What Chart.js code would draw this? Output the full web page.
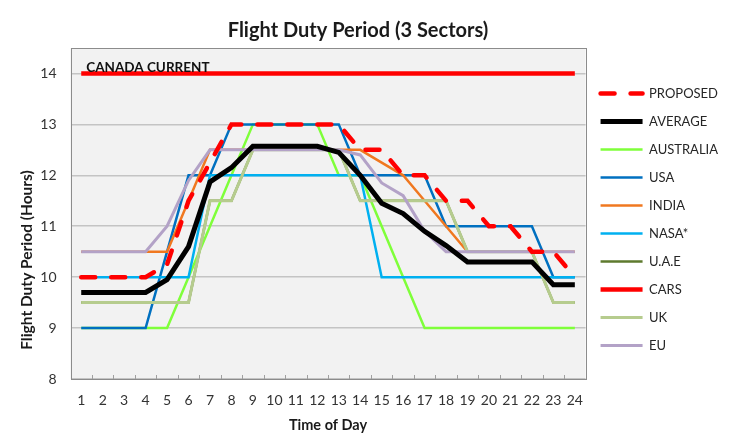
<!DOCTYPE html>
<html><head><meta charset="utf-8">
<script src="https://cdn.jsdelivr.net/npm/chart.js@4.4.0/dist/chart.umd.min.js"></script>
<style>html,body{margin:0;padding:0;background:#fff;}canvas{display:block;}</style>
</head><body>
<canvas id="c" width="734" height="439"></canvas>
<script>
const hours = ['1','2','3','4','5','6','7','8','9','10','11','12','13','14','15','16','17','18','19','20','21','22','23','24'];
const yTicks = [8, 9, 10, 11, 12, 13, 14];
const proposed  = [10,10,10,10,10.25,11.5,12.25,13,13,13,13,13,13,12.5,12.5,12,12,11.5,11.5,11,11,10.5,10.5,10];
const average   = [9.7,9.7,9.7,9.7,9.95,10.6,11.87,12.15,12.57,12.57,12.57,12.57,12.45,12.0,11.45,11.25,10.9,10.62,10.3,10.3,10.3,10.3,9.85,9.85];
const australia = [9,9,9,9,9,10,11,12,13,13,13,13,12,12,11,10,9,9,9,9,9,9,9,9];
const usa       = [9,9,9,9,10.5,12,12,13,13,13,13,13,13,12,12,12,12,11,11,11,11,11,10,10];
const india     = [10.5,10.5,10.5,10.5,10.5,11.5,12.5,12.5,12.5,12.5,12.5,12.5,12.5,12.5,12.25,12,11.5,11,10.5,10.5,10.5,10.5,10.5,10.5];
const nasa      = [10,10,10,10,10,10,12,12,12,12,12,12,12,12,10,10,10,10,10,10,10,10,10,10];
const uae       = [9.5,9.5,9.5,9.5,9.5,9.5,11.5,11.5,12.5,12.5,12.5,12.5,12.5,11.5,11.5,11.5,11.5,11.5,10.5,10.5,10.5,10.5,9.5,9.5];
const cars      = [14,14,14,14,14,14,14,14,14,14,14,14,14,14,14,14,14,14,14,14,14,14,14,14];
const uk        = [9.5,9.5,9.5,9.5,9.5,9.5,11.5,11.5,12.5,12.5,12.5,12.5,12.5,11.5,11.5,11.5,11.5,11.5,10.5,10.5,10.5,10.5,9.5,9.5];
const eu        = [10.5,10.5,10.5,10.5,11,11.9,12.5,12.5,12.5,12.5,12.5,12.5,12.5,12.4,11.85,11.6,10.9,10.5,10.5,10.5,10.5,10.5,10.5,10.5];
const chartTitle = 'Flight Duty Period (3 Sectors)';
const annotationText = 'CANADA CURRENT';
const yTitle = 'Flight Duty Period (Hours)';

const FONT = 'Lato, "Open Sans", sans-serif';

function ds(label, data, color, width, order, dash) {
  return { label, data, borderColor: color, backgroundColor: color, borderWidth: width,
    pointRadius: 0, pointHoverRadius: 0, tension: 0, fill: false, order,
    borderDash: dash || [], borderCapStyle: dash ? 'round' : 'butt', borderJoinStyle: 'miter' };
}

const plotDeco = {
  id: 'plotDeco',
  beforeDraw(chart) {
    const {ctx, chartArea: a} = chart;
    ctx.save();
    ctx.fillStyle = '#F2F2F2';
    ctx.fillRect(a.left, a.top, a.right - a.left, a.bottom - a.top);
    ctx.restore();
  },
  beforeDatasetsDraw(chart) {
    const {ctx, chartArea: a} = chart;
    ctx.save();
    ctx.strokeStyle = '#8C8C8C';
    ctx.lineWidth = 1;
    ctx.strokeRect(Math.round(a.left) + 0.5, Math.round(a.top) + 0.5, Math.round(a.right - a.left), Math.round(a.bottom - a.top));
    const n = hours.length;
    const step = (a.right - a.left) / n;
    ctx.strokeStyle = '#A0A0A0';
    for (let i = 1; i < n; i++) {
      const px = Math.round(a.left + i * step) + 0.5;
      ctx.beginPath();
      ctx.moveTo(px, a.bottom);
      ctx.lineTo(px, a.bottom - 4);
      ctx.stroke();
    }
    ctx.restore();
  },
  afterDraw(chart) {
    const {ctx, scales} = chart;
    ctx.save();
    ctx.fillStyle = '#1a1a1a';
    ctx.font = 'bold 20px ' + FONT;
    ctx.textAlign = 'center';
    ctx.textBaseline = 'middle';
    ctx.fillText(chartTitle, 358, 31);
    ctx.fillStyle = '#111';
    ctx.font = 'bold 13.5px ' + FONT;
    ctx.textBaseline = 'alphabetic';
    ctx.textAlign = 'left';
    ctx.fillText(annotationText, scales.x.getPixelForValue(0) + 5, scales.y.getPixelForValue(14) - 1.5);
    ctx.translate(27, 260);
    ctx.rotate(-Math.PI / 2);
    ctx.textAlign = 'center';
    ctx.textBaseline = 'middle';
    ctx.font = 'bold 15.5px ' + FONT;
    ctx.fillStyle = '#1a1a1a';
    ctx.fillText(yTitle, 0, 0);
    ctx.restore();
  }
};

new Chart(document.getElementById('c'), {
  type: 'line',
  data: {
    labels: hours,
    datasets: [
      ds('PROPOSED', proposed, '#FF0000', 4.5, 0, [14, 16]),
      ds('AVERAGE', average, '#000000', 5, 1),
      ds('AUSTRALIA', australia, '#7FFF3A', 2.5, 9),
      ds('USA', usa, '#0070C0', 2.5, 8),
      ds('INDIA', india, '#F07820', 2.5, 7),
      ds('NASA*', nasa, '#00B0F0', 2.5, 6),
      ds('U.A.E', uae, '#5E7A2E', 2.5, 10),
      ds('CARS', cars, '#FF0000', 4.5, 2),
      ds('UK', uk, '#B6CC8E', 3, 4),
      ds('EU', eu, '#B3A2C7', 3, 3)
    ]
  },
  options: {
    responsive: false,
    devicePixelRatio: 1,
    animation: false,
    layout: { padding: { left: 0, right: 6, top: 0, bottom: 0 } },
    plugins: {
      tooltip: { enabled: false },
      title: {
        display: true,
        text: ' ',
        font: { family: FONT, size: 20, weight: 'bold' },
        padding: { top: 24, bottom: 0 }
      },
      legend: {
        position: 'right',
        labels: {
          usePointStyle: true,
          pointStyle: 'line',
          pointStyleWidth: 42,
          padding: 15,
          color: '#262626',
          font: { family: FONT, size: 13 },
          sort: (a, b) => a.datasetIndex - b.datasetIndex,
          generateLabels(chart) {
            const items = Chart.defaults.plugins.legend.labels.generateLabels(chart);
            items.forEach(it => {
              const d = chart.data.datasets[it.datasetIndex];
              it.lineDash = d.borderDash;
              it.lineWidth = d.borderWidth;
              it.strokeStyle = d.borderColor;
              it.lineCap = d.borderDash && d.borderDash.length ? 'round' : 'butt';
            });
            return items;
          }
        }
      }
    },
    scales: {
      x: {
        type: 'category',
        offset: true,
        grid: { display: false, drawTicks: false },
        border: { display: false },
        ticks: { color: '#333', font: { family: FONT, size: 14 }, padding: 13, maxRotation: 0, autoSkip: false },
        title: { display: true, text: 'Time of Day', color: '#1a1a1a', font: { family: FONT, size: 14.5, weight: 'bold' }, padding: { top: 0, bottom: 5 } },
        afterFit(s) { s.height = 60; }
      },
      y: {
        min: 8,
        max: 14.5,
        afterBuildTicks(s) { s.ticks = yTicks.map(v => ({ value: v })); },
        grid: { color: '#C4C4C4', lineWidth: 1.5, drawTicks: false },
        border: { display: false },
        ticks: { color: '#333', font: { family: FONT, size: 14 }, padding: 14 },
        afterFit(s) { s.width = 70.5; }
      }
    }
  },
  plugins: [plotDeco]
});
</script>
</body></html>
